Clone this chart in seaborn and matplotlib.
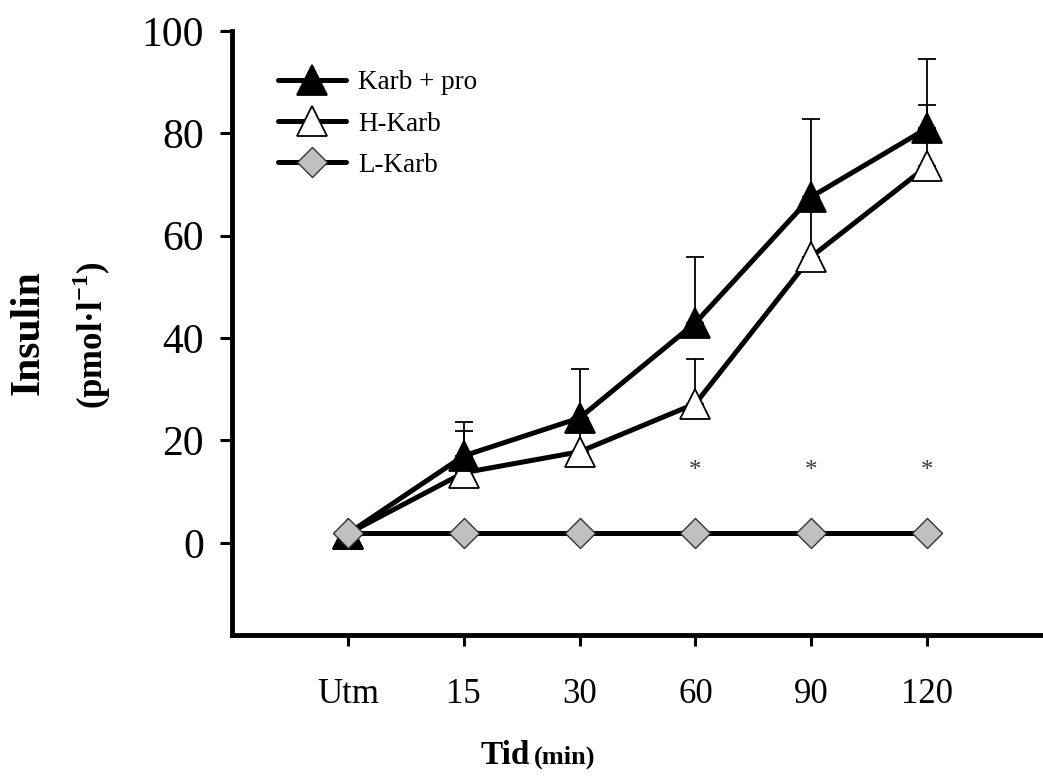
import matplotlib
matplotlib.use("Agg")
import matplotlib.pyplot as plt
import seaborn as sns
import numpy as np

# ---- data ----
time_labels = ["Utm", "15", "30", "60", "90", "120"]
karb_pro = [1.8, 17.0, 24.4, 43.0, 67.6, 81.0]
karb_pro_err = [0.0, 6.6, 9.6, 12.8, 15.2, 13.5]
h_karb = [1.8, 13.7, 17.8, 27.2, 55.9, 73.6]
h_karb_err = [0.0, 8.2, 6.0, 8.7, 10.0, 11.9]
l_karb = [2.0, 2.0, 2.0, 2.0, 2.0, 2.0]
sig_idx = [3, 4, 5]
sig_y = 14.0
y_ticks = [0, 20, 40, 60, 80, 100]

sns.set_style("white")
plt.rcParams["font.family"] = ["Liberation Serif", "DejaVu Serif"]
plt.rcParams["mathtext.fontset"] = "custom"
plt.rcParams["mathtext.rm"] = "Liberation Serif"
plt.rcParams["mathtext.bf"] = "Liberation Serif:bold"
plt.rcParams["text.color"] = "black"
plt.rcParams["xtick.color"] = "black"
plt.rcParams["ytick.color"] = "black"

fig = plt.figure(figsize=(10.43, 7.78), dpi=100)
ax = fig.add_axes([232 / 1043, 1 - 635 / 778, (1043 - 232) / 1043, (635 - 31) / 778])

x = np.arange(len(time_labels))
lw = 3.6

# error bars (upward only)
ax.errorbar(x, h_karb, yerr=[np.zeros(len(x)), h_karb_err], fmt="none",
            ecolor="black", elinewidth=1.3, capsize=6.5, capthick=1.3, zorder=2)
ax.errorbar(x, karb_pro, yerr=[np.zeros(len(x)), karb_pro_err], fmt="none",
            ecolor="black", elinewidth=1.3, capsize=6.5, capthick=1.3, zorder=2)

sns.lineplot(x=x, y=h_karb, ax=ax, color="black", lw=lw, marker="^",
             markersize=21, markerfacecolor="white", markeredgecolor="black",
             markeredgewidth=1.3, label="H-Karb", errorbar=None, zorder=3)
sns.lineplot(x=x, y=karb_pro, ax=ax, color="black", lw=lw, marker="^",
             markersize=21, markerfacecolor="black", markeredgecolor="black",
             markeredgewidth=1.3, label="Karb + pro", errorbar=None, zorder=4)
sns.lineplot(x=x, y=l_karb, ax=ax, color="black", lw=lw, marker="D",
             markersize=15, markerfacecolor="#c0c0c0", markeredgecolor="#333333",
             markeredgewidth=1.0, label="L-Karb", errorbar=None, zorder=5)

for i in sig_idx:
    ax.text(x[i], sig_y, "*", ha="center", va="center", fontsize=18,
            color="#3a3a48")

ax.set_xlim(-1, 6)
ax.set_ylim(-18, 100)
ax.set_xticks(x)
ax.set_xticklabels(time_labels)
ax.set_yticks(y_ticks)
ax.tick_params(axis="x", bottom=True, labelsize=25, length=8, width=2.2,
               pad=23, direction="out", colors="black")
ax.tick_params(axis="y", left=True, labelsize=30, length=9, width=2.2,
               pad=11, direction="out", colors="black")
ax.set_xlabel("")
ax.set_ylabel("")

for s in ["top", "right"]:
    ax.spines[s].set_visible(False)
for s in ["left", "bottom"]:
    ax.spines[s].set_linewidth(3.5)
    ax.spines[s].set_color("black")

handles, labels = ax.get_legend_handles_labels()
order = [labels.index(l) for l in ["Karb + pro", "H-Karb", "L-Karb"]]
ax.legend([handles[i] for i in order], [labels[i] for i in order],
          loc="upper left", bbox_to_anchor=(0.057, 0.935), frameon=False,
          fontsize=19.5, handlelength=2.5, handletextpad=0.45, labelspacing=0.6,
          borderpad=0, borderaxespad=0)

# axis labels
fig.text(29 / 1043, 1 - 333 / 778, "Insulin", rotation=90, ha="center",
         va="center", fontsize=30, fontweight="bold")
fig.text(92 / 1043, 1 - 335 / 778, "(pmol·l$^{\\mathbf{-1}}$)", rotation=90,
         ha="center", va="center", fontsize=25, fontweight="bold")
fig.text(530 / 1043, 1 - 755 / 778, "Tid", ha="right", va="center",
         fontsize=24, fontweight="bold")
fig.text(534 / 1043, 1 - 757 / 778, "(min)", ha="left", va="center",
         fontsize=19, fontweight="bold")

fig.savefig("out.png", dpi=100)
